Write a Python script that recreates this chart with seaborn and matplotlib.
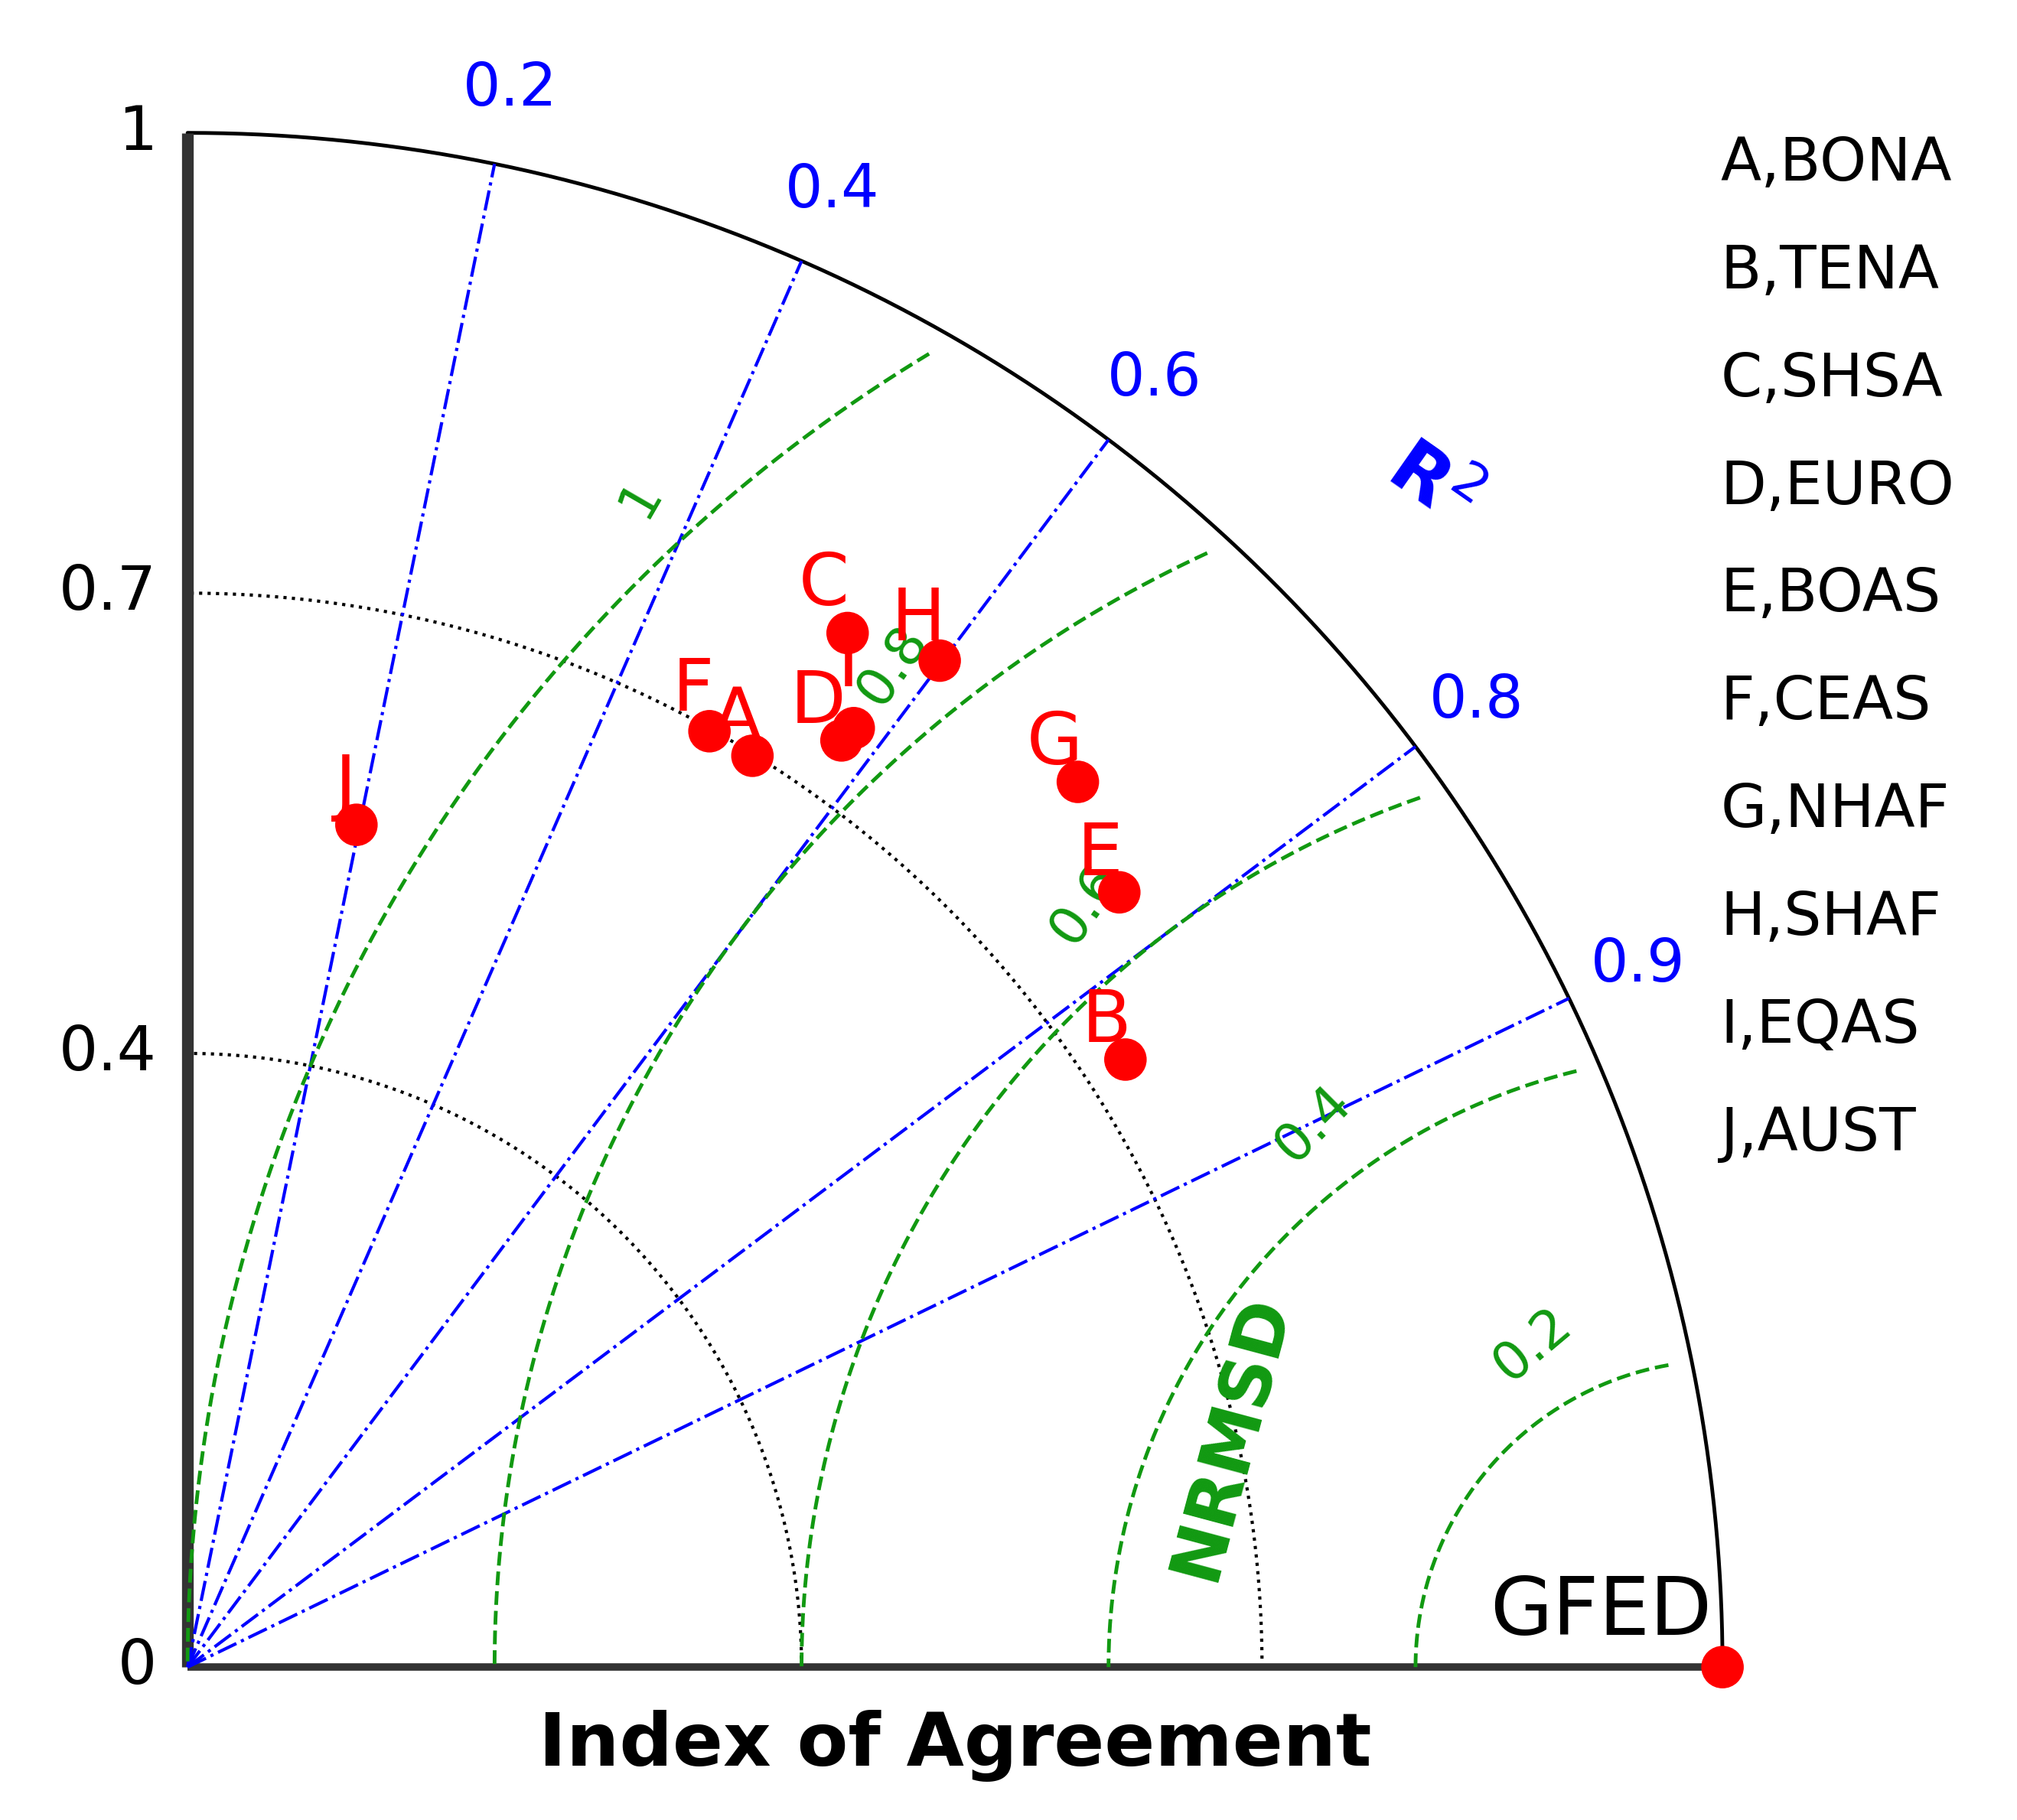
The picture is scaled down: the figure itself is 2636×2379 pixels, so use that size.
import numpy as np
import matplotlib
matplotlib.use("Agg")
import matplotlib.pyplot as plt
import seaborn as sns

sns.set_style("white")
plt.rcParams['font.family'] = ['DejaVu Sans']
plt.rcParams['text.color'] = 'black'

# data (x = index of agreement, y = vertical component)
labels = ["J", "F", "A", "C", "H", "D", "I", "G", "E", "B"]
xs = [0.110, 0.340, 0.368, 0.430, 0.490, 0.426, 0.434, 0.580, 0.607, 0.611]
ys = [0.549, 0.610, 0.594, 0.674, 0.656, 0.604, 0.612, 0.577, 0.505, 0.396]
label_offsets = {"J": (-10, 2), "F": (-15, 5), "A": (-15, 0), "C": (-22, 12),
                 "H": (-20, 5), "D": (-22, 2), "I": (-5, 25), "G": (-22, 2),
                 "E": (-18, 2), "B": (-18, 2)}
regions = ["A,BONA", "B,TENA", "C,SHSA", "D,EURO", "E,BOAS",
           "F,CEAS", "G,NHAF", "H,SHAF", "I,EQAS", "J,AUST"]
r2_ticks = [0.2, 0.4, 0.6, 0.8, 0.9]
nrmsd_levels = [0.2, 0.4, 0.6, 0.8, 1.0]
nrmsd_label_pos = [(0.876, 0.21, 40), (0.733, 0.354, 45), (0.585, 0.497, 55),
                   (0.459, 0.653, 55), (0.295, 0.762, 60)]
std_arcs = [0.4, 0.7]
ytick_vals = [0, 0.4, 0.7, 1]

fig = plt.figure(figsize=(26.36, 23.79), dpi=100)
ax = fig.add_axes([0.093, 0.084, 0.761, 0.843])
ax.set_xlim(0, 1)
ax.set_ylim(0, 1)
ax.axis("off")

# outer circle
t = np.linspace(0, np.pi / 2, 400)
ax.plot(np.cos(t), np.sin(t), color="black", lw=3.5, clip_on=False)
# std arcs
for r in std_arcs:
    ax.plot(r * np.cos(t), r * np.sin(t), color="black", ls=":", lw=3, clip_on=False)
# axes
ax.plot([0, 0], [0, 1], color="#333333", lw=11, clip_on=False, solid_capstyle="butt")
ax.plot([0, 1], [0, 0], color="#333333", lw=7, clip_on=False, solid_capstyle="butt")

# R2 lines
for v in r2_ticks:
    a = np.arccos(v)
    ax.plot([0, np.cos(a)], [0, np.sin(a)], color="blue", ls="-.", lw=3, clip_on=False)
    ax.text(1.05 * np.cos(a), 1.05 * np.sin(a), str(v), color="blue",
            fontsize=56, ha="center", va="center")

# NRMSD arcs centered at (1, 0)
for r in nrmsd_levels:
    phi = np.linspace(np.pi / 2, np.pi, 400)
    px = 1 + r * np.cos(phi)
    py = r * np.sin(phi)
    keep = np.hypot(px, py) <= 0.985
    ax.plot(px[keep], py[keep], color="#119911", ls="--", lw=3.5, clip_on=False)
for lev, (lx, ly, rot) in zip(nrmsd_levels, nrmsd_label_pos):
    txt = "1" if lev == 1.0 else str(lev)
    ax.text(lx, ly, txt, color="#119911", fontsize=50, rotation=rot,
            ha="center", va="center")

# y tick labels
for v in ytick_vals:
    ax.text(-0.02, v, str(v) if v not in (0, 1) else str(int(v)), fontsize=58,
            ha="right", va="center")

# points
sns.scatterplot(x=xs, y=ys, ax=ax, color="red", s=1600, edgecolor="none",
                zorder=5, clip_on=False)
sns.scatterplot(x=[1.0], y=[0.0], ax=ax, color="red", s=1600, edgecolor="none",
                zorder=5, clip_on=False)
for lab, x, y in zip(labels, xs, ys):
    ax.annotate(lab, (x, y), xytext=label_offsets[lab], textcoords="offset points",
                color="red", fontsize=68, ha="center", va="bottom", zorder=6)
ax.text(0.993, 0.01, "GFED", fontsize=76, ha="right", va="bottom")

# titles
ax.text(0.5, -0.028, "Index of Agreement", fontsize=70, fontweight="bold",
        ha="center", va="top")
ax.text(0.81, 0.77, "R$^2$", color="blue", fontsize=70, fontweight="bold",
        rotation=-35, ha="center", va="center")
ax.text(0.68, 0.15, "NRMSD", color="#119911", fontsize=66, fontweight="bold",
        rotation=75, ha="center", va="center")

# region legend
for i, name in enumerate(regions):
    fig.text(0.853, 0.91 - i * 0.0592, name, fontsize=56, ha="left", va="center")

fig.savefig("out.png", dpi=100)
